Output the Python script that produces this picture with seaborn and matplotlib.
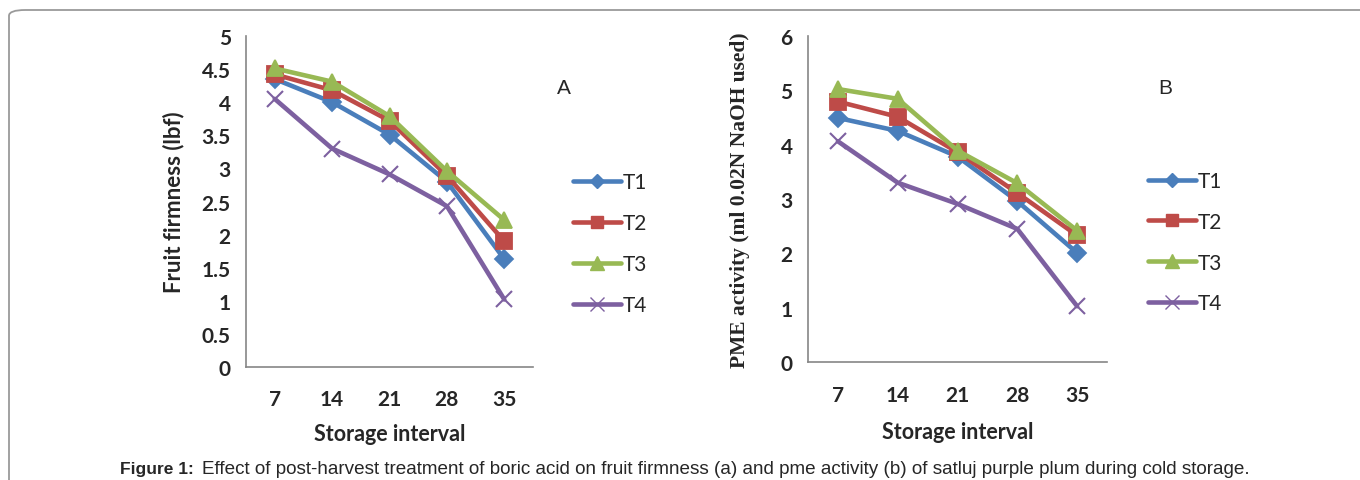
import numpy as np
import pandas as pd
import seaborn as sns
import matplotlib.pyplot as plt
from matplotlib.lines import Line2D
from matplotlib.patches import FancyBboxPatch

# data
intervals = ["7", "14", "21", "28", "35"]
treatments = ["T1", "T2", "T3", "T4"]

firm_t1 = [4.35, 4.00, 3.51, 2.80, 1.63]
firm_t2 = [4.42, 4.18, 3.72, 2.89, 1.90]
firm_t3 = [4.51, 4.31, 3.79, 2.96, 2.22]
firm_t4 = [4.05, 3.30, 2.91, 2.43, 1.02]

pme_t1 = [4.49, 4.25, 3.78, 2.96, 2.01]
pme_t2 = [4.79, 4.51, 3.86, 3.11, 2.33]
pme_t3 = [5.02, 4.84, 3.89, 3.29, 2.42]
pme_t4 = [4.06, 3.30, 2.91, 2.45, 1.03]

colors = {"T1": "#4A7EBB", "T2": "#BE4B48", "T3": "#98B954", "T4": "#7D60A0"}
markers = {"T1": "D", "T2": "s", "T3": "^", "T4": "x"}
msizes = {"T1": 9, "T2": 11, "T3": 12, "T4": 12}

def to_long(series):
    rows = []
    for t, vals in zip(treatments, series):
        for i, (c, v) in enumerate(zip(intervals, vals)):
            rows.append({"pos": i, "interval": c, "Treatment": t, "value": v})
    return pd.DataFrame(rows)

df_a = to_long([firm_t1, firm_t2, firm_t3, firm_t4])
df_b = to_long([pme_t1, pme_t2, pme_t3, pme_t4])

sns.set_style("white")
plt.rcParams["font.family"] = ["Lato", "DejaVu Sans"]

fig = plt.figure(figsize=(13.6, 4.81), dpi=100)
ax_a = fig.add_axes([0.1809, 0.2349, 0.2110, 0.6882])
ax_b = fig.add_axes([0.5941, 0.2447, 0.2199, 0.6790])

gray = "#868686"


def draw(ax, df, ymax, ystep, ylabel, yfont):
    for t in treatments:
        sub = df[df["Treatment"] == t]
        sns.lineplot(data=sub, x="pos", y="value", ax=ax, color=colors[t],
                     lw=3.3, marker=markers[t], markersize=msizes[t],
                     markeredgecolor=colors[t], markeredgewidth=1.3 if t != "T4" else 1.5,
                     legend=False)
    ax.set_xlim(-0.5, 4.5)
    ax.set_ylim(0, ymax)
    ax.set_yticks(np.arange(0, ymax + 0.001, ystep))
    ax.set_yticklabels([f"{v:g}" for v in np.arange(0, ymax + 0.001, ystep)])
    ax.set_xticks(range(len(intervals)))
    ax.set_xticklabels(intervals)
    ax.set_xticks(np.arange(-0.5, 4.6, 1), minor=True)
    ax.tick_params(axis="x", which="major", length=0, pad=16)
    ax.tick_params(axis="x", which="minor", length=7, color=gray, width=1.2, direction="out")
    ax.tick_params(axis="y", length=7, color=gray, width=1.2, direction="out", pad=4)
    ax.tick_params(labelsize=15)
    for lab in ax.get_xticklabels() + ax.get_yticklabels():
        lab.set_fontweight("bold")
    for s in ["top", "right"]:
        ax.spines[s].set_visible(False)
    for s in ["left", "bottom"]:
        ax.spines[s].set_color(gray)
        ax.spines[s].set_linewidth(1.2)
    ax.set_xlabel("Storage interval", fontsize=15.5, fontweight="bold", labelpad=10)
    ax.set_ylabel(ylabel, **yfont)


draw(ax_a, df_a, 5, 0.5, "Fruit firmness (lbf)",
     dict(fontsize=16, fontweight="bold", labelpad=12))
draw(ax_b, df_b, 6, 1, "PME activity (ml 0.02N NaOH used)",
     dict(fontsize=15.5, fontweight="bold", family="Liberation Serif", labelpad=22))
ax_b.xaxis.labelpad = 12

handles = [Line2D([], [], color=colors[t], lw=3.3, marker=markers[t],
                  markersize=msizes[t] - 2, markeredgecolor=colors[t]) for t in treatments]
for ax, x0, y0 in [(ax_a, 0.415, 0.657), (ax_b, 0.838, 0.660)]:
    ax.legend(handles, treatments, loc="upper left", bbox_to_anchor=(x0, y0),
              bbox_transform=fig.transFigure, frameon=False, fontsize=15,
              handlelength=2.3, handletextpad=0.1, labelspacing=1.0, borderaxespad=0)

fig.text(0.4096, 0.817, "A", fontsize=15, ha="left", va="center", family="Liberation Sans")
fig.text(0.8515, 0.817, "B", fontsize=15, ha="left", va="center", family="Liberation Sans")

# caption: bold lead-in, then body placed right after it
lead = fig.text(120 / 1360, 0.023, "Figure 1:", fontsize=12.5, fontweight="bold",
                family="Liberation Sans", ha="left", va="center")
fig.canvas.draw()
x_end = lead.get_window_extent().x1
fig.text((x_end + 8) / 1360, 0.023,
         "Effect of post-harvest treatment of boric acid on fruit firmness (a) and pme activity (b) of satluj purple plum during cold storage.",
         fontsize=13.6, family="Liberation Sans", ha="left", va="center")

frame = FancyBboxPatch((9 / 1360, -0.2), 1.2, 1.2 - 11 / 481 + 0.0,
                       boxstyle="round,pad=0,rounding_size=0.012",
                       transform=fig.transFigure, fill=False, ec="#9a9a9a", lw=1.3)
fig.add_artist(frame)

fig.savefig("out.png", dpi=100)
